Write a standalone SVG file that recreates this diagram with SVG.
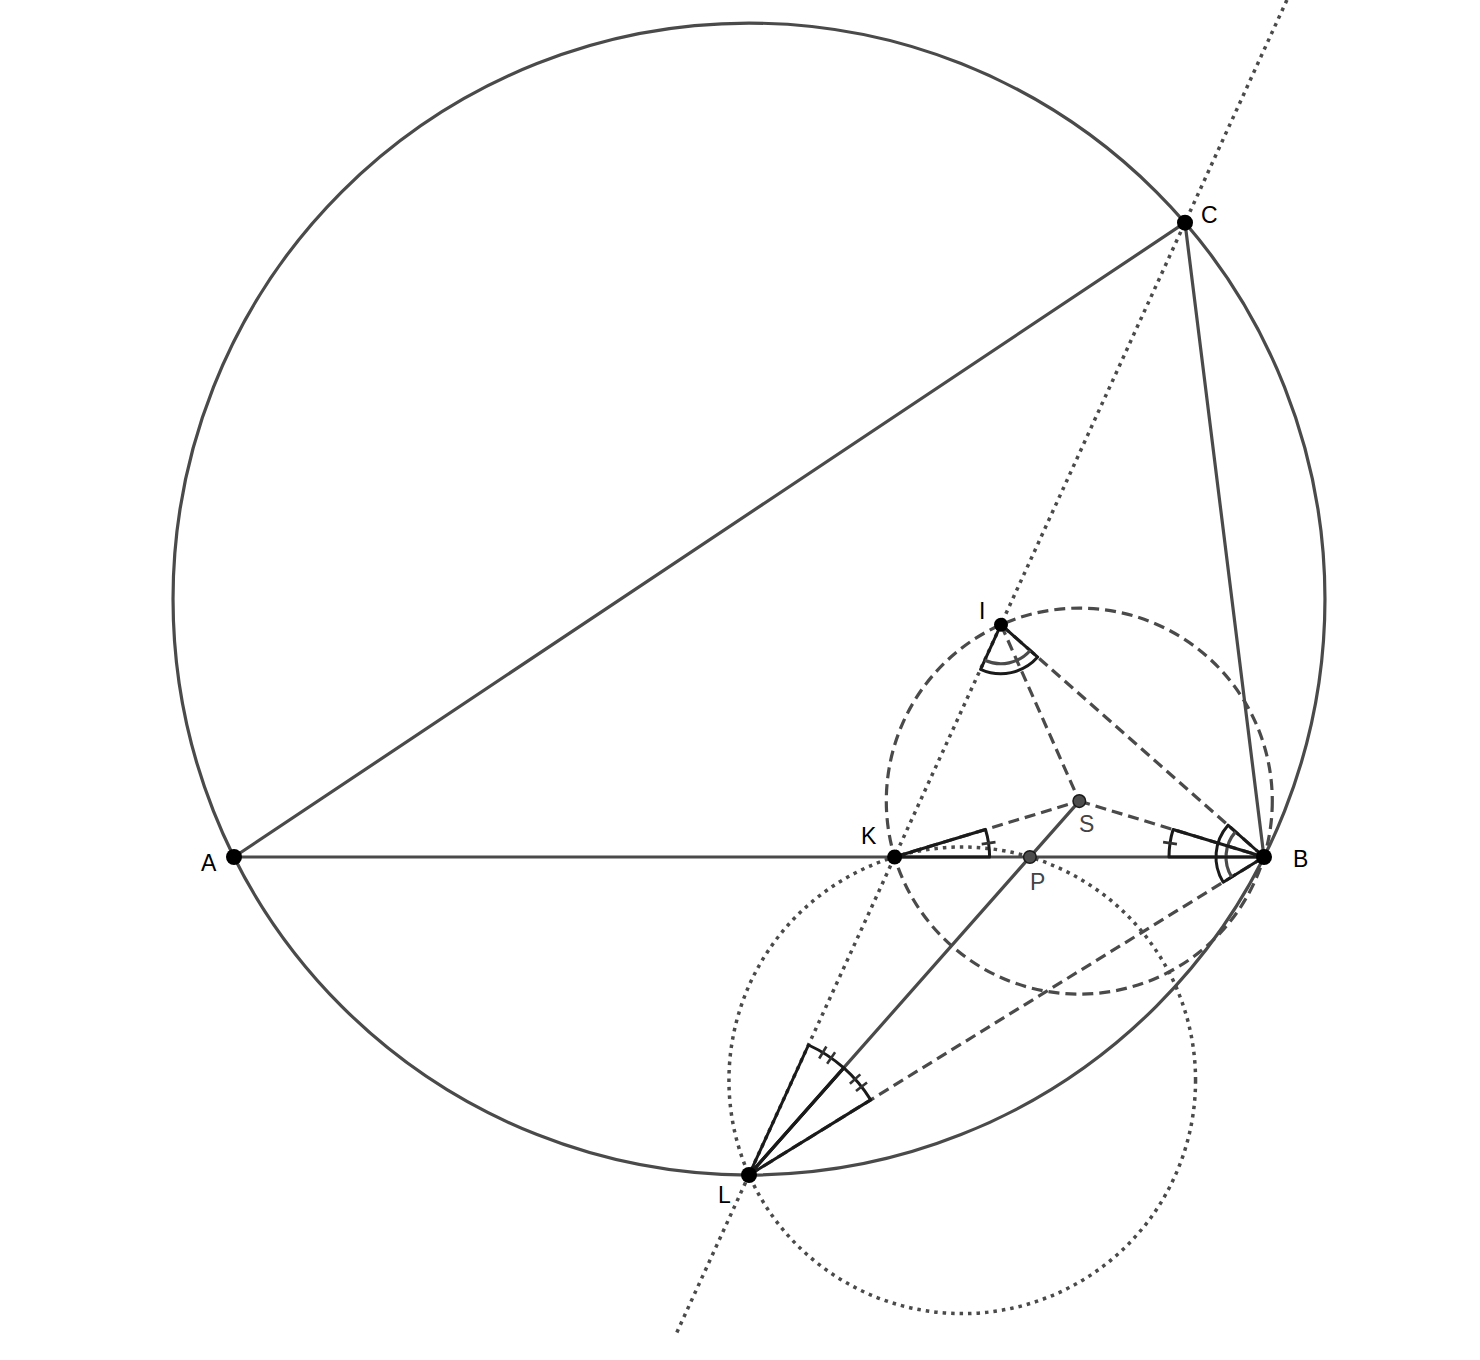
<svg xmlns="http://www.w3.org/2000/svg" width="1480" height="1360" viewBox="0 0 1480 1360">
<style>
.solid{fill:none;stroke:#4a4a4a;stroke-width:3.2;stroke-linecap:round}
.dash{fill:none;stroke:#4a4a4a;stroke-width:3.2;stroke-dasharray:11 6}
.dot{fill:none;stroke:#4a4a4a;stroke-width:3.5;stroke-dasharray:3.5 5}
.ang{fill:none;stroke:#1a1a1a;stroke-width:3;stroke-linejoin:round}
.arc2{fill:none;stroke:#4a4a4a;stroke-width:3.2}
.tick{fill:none;stroke:#333;stroke-width:2.6}
.pt{fill:#000}
.pt2{fill:#4d4d4d;stroke:#1a1a1a;stroke-width:1.5}
.lbl{font-family:"Liberation Sans",Arial,sans-serif;font-size:23px;fill:#000}
.lbl2{font-family:"Liberation Sans",Arial,sans-serif;font-size:23px;fill:#444}
</style>
<rect width="1480" height="1360" fill="#fff"/>
<g id="connectors">
  <circle class="solid" cx="749" cy="599.07" r="575.97"/>
  <circle class="dash" cx="1079.3" cy="801.1" r="193"/>
  <circle class="dot" cx="962.25" cy="1080.3" r="233.3"/>
  <line class="dot" x1="1286.9" y1="0" x2="675.7" y2="1335"/>
  <line class="solid" x1="234" y1="857" x2="1264" y2="857"/>
  <line class="solid" x1="234" y1="857" x2="1185" y2="222.7"/>
  <line class="solid" x1="1185" y1="222.7" x2="1264" y2="857"/>
  <line class="solid" x1="1079.3" y1="801.1" x2="749" y2="1175"/>
  <line class="dash" x1="1001" y1="624.7" x2="1079.3" y2="801.1"/>
  <line class="dash" x1="1001" y1="624.7" x2="1264" y2="857"/>
  <line class="dash" x1="894.6" y1="857" x2="1079.3" y2="801.1"/>
  <line class="dash" x1="1079.3" y1="801.1" x2="1264" y2="857"/>
  <line class="dash" x1="749" y1="1175" x2="1264" y2="857"/>
</g>
<g id="angles">
  <path class="ang" d="M1001,624.7 L1037.7,657.1 A49,49 0 0 1 980.6,669.3 Z"/>
  <path class="arc2" d="M1030.2,650.5 A39,39 0 0 1 984.8,660.2"/>
  <path class="ang" d="M1264,857 L1223.2,882.2 A48,48 0 0 1 1228,825.2 Z"/>
  <path class="arc2" d="M1231.7,877 A38,38 0 0 1 1235.5,831.9"/>
  <path class="ang" d="M894.6,857 L985.5,829.5 A95,95 0 0 1 989.6,857 Z"/>
  <line class="tick" x1="981.7" y1="844.1" x2="995.5" y2="842.1"/>
  <path class="ang" d="M1264,857 L1169,857 A95,95 0 0 1 1173.1,829.5 Z"/>
  <line class="tick" x1="1176.95" y1="844.1" x2="1163.1" y2="842.1"/>
  <path class="ang" d="M749,1175 L808.5,1045 A143,143 0 0 1 843.8,1067.9 Z"/>
  <path class="ang" d="M749,1175 L843.8,1067.9 A143,143 0 0 1 870.7,1099.9 Z"/>
  <line class="tick" x1="819.2" y1="1058.5" x2="826.4" y2="1046.5"/>
  <line class="tick" x1="827.1" y1="1063.7" x2="835.1" y2="1052.2"/>
  <line class="tick" x1="849.9" y1="1083.8" x2="860.3" y2="1074.4"/>
  <line class="tick" x1="856" y1="1091.1" x2="867" y2="1082.4"/>
</g>
<g id="A"><circle class="pt" cx="234" cy="857" r="8"/><text class="lbl" x="201" y="871">A</text></g>
<g id="B"><circle class="pt" cx="1264" cy="857" r="8"/><text class="lbl" x="1293" y="867">B</text></g>
<g id="C"><circle class="pt" cx="1185" cy="222.7" r="8"/><text class="lbl" x="1201" y="223">C</text></g>
<g id="I"><circle class="pt" cx="1001" cy="624.7" r="7"/><text class="lbl" x="979" y="619">I</text></g>
<g id="K"><circle class="pt" cx="894.6" cy="857" r="7.5"/><text class="lbl" x="861" y="844">K</text></g>
<g id="L"><circle class="pt" cx="749" cy="1175" r="8"/><text class="lbl" x="718" y="1203">L</text></g>
<g id="S"><circle class="pt2" cx="1079.3" cy="801.1" r="6.3"/><text class="lbl2" x="1079" y="832">S</text></g>
<g id="P"><circle class="pt2" cx="1029.9" cy="857" r="6.3"/><text class="lbl2" x="1030" y="890">P</text></g>
</svg>
